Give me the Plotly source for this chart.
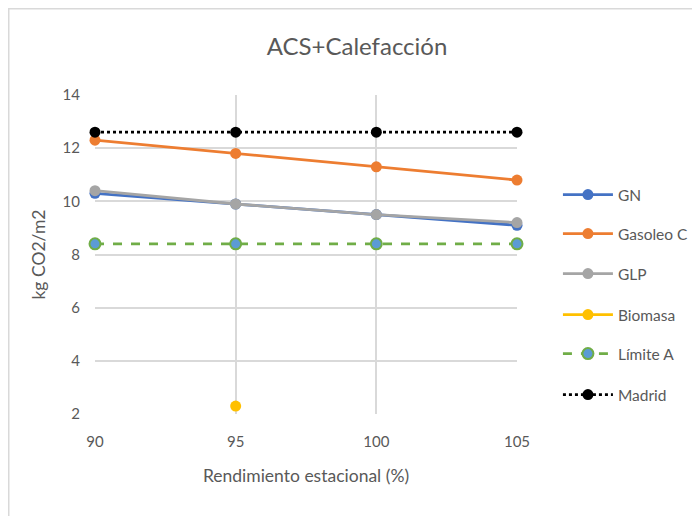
import plotly.graph_objects as go

x_vals = [90, 95, 100, 105]
gn = [10.3, 9.9, 9.5, 9.1]
gasoleo = [12.3, 11.8, 11.3, 10.8]
glp = [10.4, 9.9, 9.5, 9.2]
biomasa = [None, 2.3, None, None]
limite_a = [8.4, 8.4, 8.4, 8.4]
madrid = [12.6, 12.6, 12.6, 12.6]
y_ticks = [2, 4, 6, 8, 10, 12, 14]
x_ticks = [90, 95, 100, 105]

FONT = "Lato"
TXT = "#595959"
GRID = "#D9D9D9"

# page offset of 8px (body margin) compensated in margins
L, R, T, B = 87, 191, 87, 110
W, H = 700, 516
PW, PH = W - L - R, H - T - B

fig = go.Figure()

legend_centers = [195, 234, 274, 315, 354, 395]  # page px
legends = {}

def add(i, name, y, color, dash="solid", mfill=None, mline=None, mlw=0):
    lname = "legend" if i == 0 else f"legend{i + 1}"
    fig.add_trace(go.Scatter(
        x=x_vals, y=y, name=name, mode="lines+markers",
        line=dict(color=color, width=2.8, dash=dash),
        marker=dict(size=11, color=mfill or color,
                    line=dict(color=mline or (mfill or color), width=mlw)),
        cliponaxis=False, legend=lname,
    ))
    yc_fig = legend_centers[i] - 8
    legends[lname] = dict(
        x=1.097, xanchor="left",
        y=(T + PH - yc_fig) / PH, yanchor="middle",
        font=dict(size=15.5, color=TXT, family=FONT),
        itemwidth=50, bgcolor="rgba(0,0,0,0)",
    )

add(0, "GN", gn, "#4472C4")
add(1, "Gasoleo C", gasoleo, "#ED7D31")
add(2, "GLP", glp, "#A5A5A5")
add(3, "Biomasa", biomasa, "#FFC000")
add(4, "Límite A", limite_a, "#70AD47", dash="dash", mfill="#5B9BD5", mline="#70AD47", mlw=2)
add(5, "Madrid", madrid, "#000000", dash="dot")

fig.update_layout(
    width=W, height=H,
    margin=dict(l=L, r=R, t=T, b=B),
    paper_bgcolor="white", plot_bgcolor="white",
    font=dict(family=FONT, color=TXT, size=15),
    title=dict(text="ACS+Calefacción", x=349 / W, xanchor="center",
               y=1 - 39 / H, yanchor="middle",
               font=dict(size=24, color=TXT, family=FONT)),
    showlegend=True,
    xaxis=dict(range=[90, 105], tickvals=x_ticks, showgrid=True, gridcolor=GRID,
               gridwidth=1.5, zeroline=False, showline=False,
               ticks="outside", ticklen=14, tickcolor="white",
               title=dict(text="Rendimiento estacional (%)", standoff=20,
                          font=dict(size=17.5, color=TXT))),
    yaxis=dict(range=[2, 14], tickvals=y_ticks, showgrid=True, gridcolor=GRID,
               gridwidth=1.5, zeroline=False, showline=False,
               ticks="outside", ticklen=11, tickcolor="white",
               title=dict(text="kg CO2/m2", standoff=12,
                          font=dict(size=17.5, color=TXT))),
    **legends,
)

# chart area border
fig.add_shape(type="rect", xref="paper", yref="paper",
              x0=(0.5 - L) / PW, x1=1.6, y0=-0.6, y1=(T + PH - 0.5) / PH,
              line=dict(color=GRID, width=2), fillcolor="rgba(0,0,0,0)", layer="below")

fig.write_html("out.html")
